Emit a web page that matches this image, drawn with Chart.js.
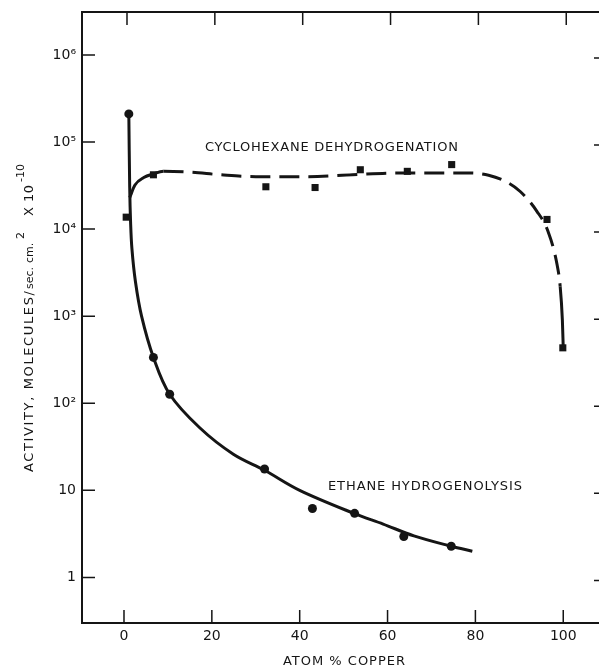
<!DOCTYPE html>
<html><head><meta charset="utf-8">
<script src="https://cdn.jsdelivr.net/npm/chart.js@4.4.1/dist/chart.umd.min.js"></script>
<style>
html,body{margin:0;padding:0;background:#fff;overflow:hidden;width:599px;height:666px}
#wrap{position:relative;width:599px;height:666px;overflow:hidden}
canvas{display:block}
</style>
</head><body><div id="wrap"><canvas id="c" width="599" height="666"></canvas></div>
<script>
// ---- data ----
const xTicks = [0, 20, 40, 60, 80, 100];
const xTickLabels = ['0', '20', '40', '60', '80', '100'];
const yTicks = [1, 10, 100, 1000, 10000, 100000, 1000000];
const yTickLabels = ['1', '10', '10²', '10³', '10⁴', '10⁵', '10⁶'];

// measured points
const ethaneX = [1.1, 6.7, 10.4, 32.0, 42.9, 52.5, 63.7, 74.5];
const ethaneY = [2.1e5, 336, 127, 17.6, 6.2, 5.45, 2.95, 2.28];
const cycloX = [0.5, 6.7, 32.3, 43.5, 53.8, 64.5, 74.6, 96.3, 99.9];
const cycloY = [1.37e4, 4.2e4, 3.06e4, 3.0e4, 4.8e4, 4.6e4, 5.5e4, 1.29e4, 433];

// hand-drawn fitted curves
const ethaneCurveX = [1.1, 1.3, 1.5, 1.8, 2.6, 4.0, 6.7, 10.4, 17.3, 24.9, 32.0, 40.0, 52.5, 59.0, 66.0, 74.5, 79.3];
const ethaneCurveY = [2.1e5, 3e4, 1.2e4, 6000, 2500, 1000, 336, 127, 52, 26, 17, 10, 5.4, 4.1, 3.0, 2.28, 2.0];
const cycloCurveX = [1.3, 2.5, 4.5, 6.7, 9, 15, 22, 30, 42, 52, 62, 72, 79, 83, 87, 90.2, 94, 96.5, 98.6, 99.3, 99.8, 100];
const cycloCurveY = [2.3e4, 3.2e4, 3.9e4, 4.3e4, 4.6e4, 4.5e4, 4.2e4, 4.0e4, 4.0e4, 4.2e4, 4.4e4, 4.4e4, 4.4e4, 4.15e4, 3.5e4, 2.7e4, 1.6e4, 9500, 3900, 2200, 900, 430];

const ethaneLabel = 'ETHANE HYDROGENOLYSIS';
const cycloLabel = 'CYCLOHEXANE DEHYDROGENATION';
const xTitle = 'ATOM % COPPER';

const ink = '#151515';
const zip = (xs, ys) => xs.map((v, i) => ({x: v, y: ys[i]}));

function fitText(ctx, text, x, y, w, font) {
  ctx.font = font;
  ctx.letterSpacing = '0px';
  const m = ctx.measureText(text).width;
  const ls = text.length > 1 ? (w - m) / (text.length - 1) : 0;
  ctx.letterSpacing = ls.toFixed(2) + 'px';
  ctx.fillText(text, x, y);
  ctx.letterSpacing = '0px';
}
function plainText(ctx, text, x, y, font) {
  ctx.font = font;
  ctx.letterSpacing = '0px';
  ctx.fillText(text, x, y);
  return ctx.measureText(text).width;
}
function noPad(s) { s.paddingTop = 0; s.paddingBottom = 0; s.paddingLeft = 0; s.paddingRight = 0; }

const framePlugin = {
  id: 'frame',
  afterDraw(chart) {
    const {ctx, chartArea: a, scales: {x, y}} = chart;
    ctx.save();
    ctx.strokeStyle = ink;
    ctx.lineWidth = 2;
    ctx.beginPath();
    ctx.moveTo(chart.width, a.top);
    ctx.lineTo(a.left, a.top);
    ctx.lineTo(a.left, a.bottom);
    ctx.lineTo(chart.width, a.bottom);
    ctx.stroke();
    ctx.lineWidth = 1.5;
    ctx.beginPath();
    xTicks.forEach(v => {
      const px = x.getPixelForValue(v);
      ctx.moveTo(px, a.bottom); ctx.lineTo(px, a.bottom - 13);
      ctx.moveTo(px + 3, a.top); ctx.lineTo(px + 3, a.top + 13);
    });
    yTicks.forEach(v => {
      const py = y.getPixelForValue(v);
      ctx.moveTo(a.left, py); ctx.lineTo(a.left + 13, py);
      ctx.moveTo(594, py + 3); ctx.lineTo(599, py + 3);
    });
    ctx.stroke();

    ctx.fillStyle = ink;
    ctx.textBaseline = 'alphabetic';
    ctx.textAlign = 'left';
    fitText(ctx, cycloLabel, 205, 151, 253, '13px "DejaVu Sans"');
    fitText(ctx, ethaneLabel, 328, 490, 194, '13px "DejaVu Sans"');
    fitText(ctx, xTitle, 283, 665, 122, '13px "DejaVu Sans"');

    // rotated y-axis title
    ctx.save();
    ctx.translate(33, 472);
    ctx.rotate(-Math.PI / 2);
    fitText(ctx, 'ACTIVITY, MOLECULES/', 0, 0, 181, '13px "DejaVu Sans"');
    plainText(ctx, 'sec.', 183, 0, '11px "DejaVu Sans"');
    plainText(ctx, 'cm.', 209, 0, '11px "DejaVu Sans"');
    plainText(ctx, '2', 233, -9, '11px "DejaVu Sans"');
    plainText(ctx, 'X', 256, 0, '13px "DejaVu Sans"');
    fitText(ctx, '10', 270, 0, 17, '13px "DejaVu Sans"');
    plainText(ctx, '-10', 290, -9, '11px "DejaVu Sans"');
    ctx.restore();
    ctx.restore();
  }
};

new Chart(document.getElementById('c'), {
  type: 'scatter',
  data: {
    datasets: [
      {data: zip(ethaneCurveX, ethaneCurveY), showLine: true, pointRadius: 0, borderColor: ink,
       borderWidth: 3, tension: 0.35},
      {data: zip(cycloCurveX, cycloCurveY), showLine: true, pointRadius: 0, borderColor: ink,
       borderWidth: 3, cubicInterpolationMode: 'monotone',
       segment: {borderDash: c => (c.p0.parsed.x >= 9 && c.p1.parsed.x <= 99.3) ? [20, 9] : []}},
      {data: zip(ethaneX, ethaneY), pointStyle: 'circle', pointRadius: 4.5, backgroundColor: ink,
       borderColor: ink, borderWidth: 0},
      {data: zip(cycloX, cycloY), pointStyle: 'rect', pointRadius: 5, backgroundColor: ink,
       borderColor: ink, borderWidth: 0}
    ]
  },
  options: {
    responsive: false,
    animation: false,
    devicePixelRatio: 1,
    clip: false,
    layout: {padding: {top: 12, right: 0, left: 0, bottom: 0}},
    plugins: {legend: {display: false}, tooltip: {enabled: false}},
    scales: {
      x: {
        type: 'linear', min: -9.56, max: 107.0,
        grid: {display: false, drawTicks: false}, border: {display: false},
        ticks: {color: ink, font: {family: 'DejaVu Sans', size: 14}, padding: 5,
                callback: (v, i) => xTickLabels[i]},
        afterBuildTicks: s => { s.ticks = xTicks.map(v => ({value: v})); },
        afterFit: s => { s.height = 43; noPad(s); }
      },
      y: {
        type: 'logarithmic', min: 0.313, max: 3.107e6,
        grid: {display: false, drawTicks: false}, border: {display: false},
        ticks: {color: ink, font: {family: 'DejaVu Sans', size: 14}, padding: 6,
                callback: (v, i) => yTickLabels[i]},
        afterBuildTicks: s => { s.ticks = yTicks.map(v => ({value: v})); },
        afterFit: s => { s.width = 82; noPad(s); }
      }
    }
  },
  plugins: [framePlugin]
});
</script>
</body></html>
